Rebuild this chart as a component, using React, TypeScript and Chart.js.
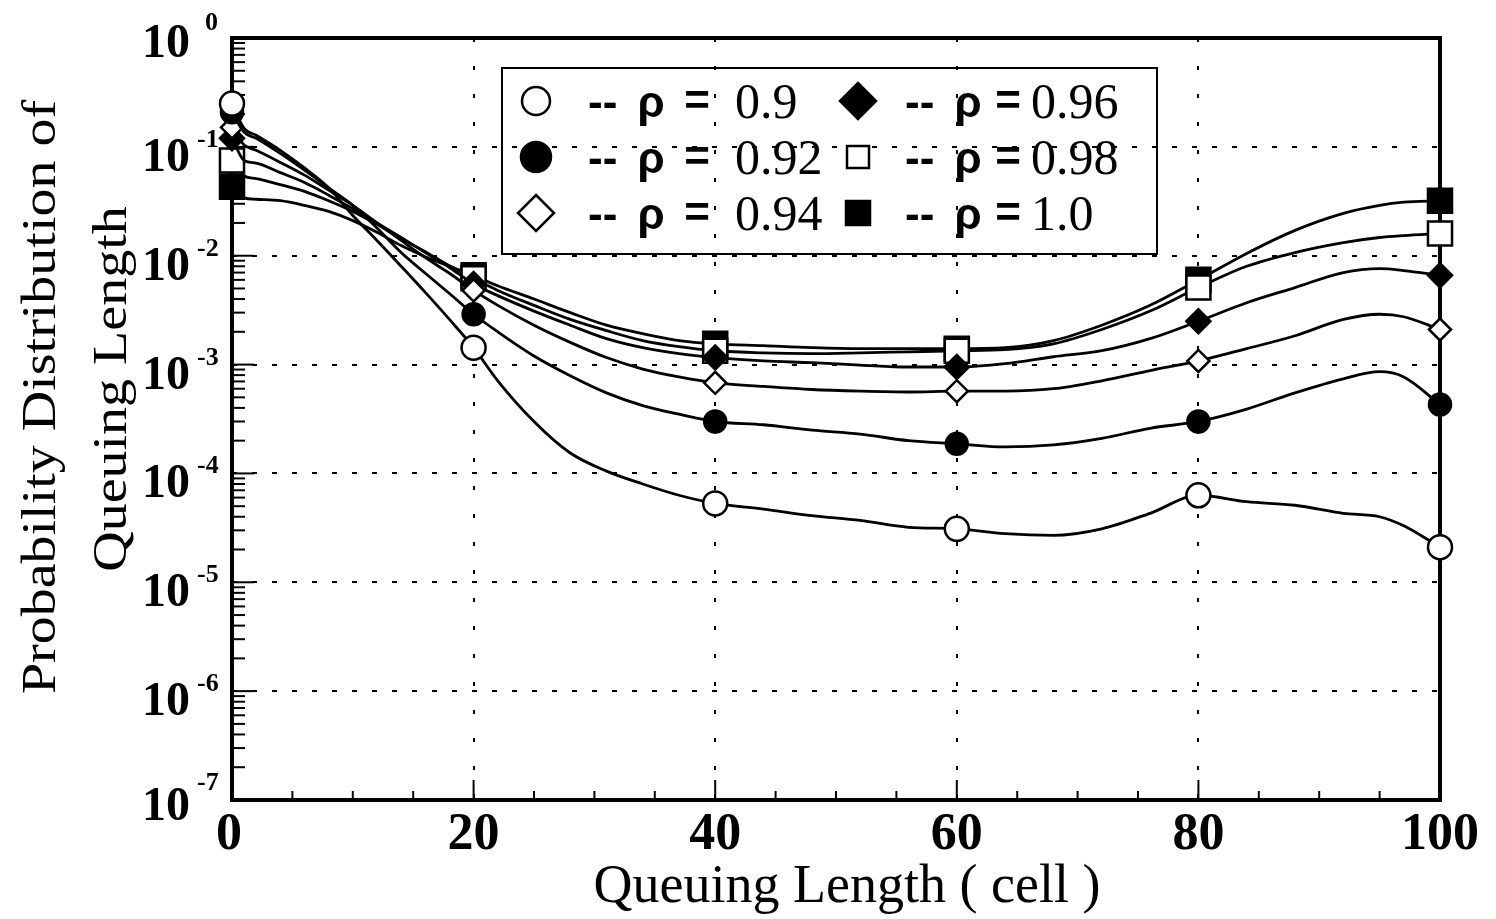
import React, { useEffect, useRef } from "react";
import { Chart, registerables } from "chart.js";

Chart.register(...registerables);

// Queuing length (cells) sample positions along the curves
const QUEUE_LEN = [0, 1, 2, 4, 6, 8, 10, 12, 14, 16, 18, 20, 22, 25, 28, 31, 34, 37, 40, 44, 48, 52, 56, 60, 64, 68, 72, 76, 80, 84, 88, 92, 95, 97, 100];
// positions where the symbols are drawn
const MARKER_AT = [0, 20, 40, 60, 80, 100];

const RHO_LABELS = ["0.9", "0.92", "0.94", "0.96", "0.98", "1.0"];

const P_RHO_090 = [0.25, 0.148, 0.128, 0.093, 0.064, 0.042, 0.0234, 0.0138, 8.0e-3, 4.6e-3, 2.6e-3, 1.43e-3, 7.1e-4, 3.0e-4, 1.54e-4, 1.05e-4, 8.0e-5, 6.3e-5, 5.3e-5, 4.7e-5, 4.1e-5, 3.7e-5, 3.2e-5, 3.1e-5, 2.8e-5, 2.7e-5, 3.1e-5, 4.3e-5, 6.3e-5, 5.5e-5, 5.1e-5, 4.3e-5, 4.0e-5, 3.3e-5, 2.1e-5];
const P_RHO_092 = [0.208, 0.136, 0.12, 0.087, 0.061, 0.042, 0.029, 0.018, 0.0107, 6.9e-3, 4.5e-3, 2.9e-3, 2.0e-3, 1.2e-3, 7.9e-4, 5.5e-4, 4.2e-4, 3.5e-4, 3.0e-4, 2.8e-4, 2.5e-4, 2.3e-4, 2.0e-4, 1.87e-4, 1.75e-4, 1.83e-4, 2.1e-4, 2.6e-4, 3.0e-4, 3.9e-4, 5.5e-4, 7.4e-4, 8.6e-4, 7.7e-4, 4.3e-4];
const P_RHO_094 = [0.151, 0.104, 0.093, 0.072, 0.055, 0.04, 0.029, 0.02, 0.0138, 9.6e-3, 6.9e-3, 4.8e-3, 3.5e-3, 2.3e-3, 1.6e-3, 1.16e-3, 9.1e-4, 7.7e-4, 6.8e-4, 6.3e-4, 5.9e-4, 5.7e-4, 5.6e-4, 5.7e-4, 5.7e-4, 6.0e-4, 7.1e-4, 8.8e-4, 1.08e-3, 1.4e-3, 1.84e-3, 2.6e-3, 2.9e-3, 2.75e-3, 2.1e-3];
const P_RHO_096 = [0.12, 0.075, 0.071, 0.058, 0.047, 0.036, 0.027, 0.02, 0.0147, 0.0107, 7.8e-3, 5.5e-3, 4.3e-3, 3.1e-3, 2.3e-3, 1.73e-3, 1.43e-3, 1.26e-3, 1.16e-3, 1.08e-3, 1.04e-3, 9.9e-4, 9.5e-4, 9.5e-4, 1.02e-3, 1.18e-3, 1.34e-3, 1.73e-3, 2.5e-3, 3.7e-3, 5.1e-3, 7.0e-3, 7.6e-3, 7.3e-3, 6.6e-3];
const P_RHO_098 = [0.075, 0.054, 0.051, 0.045, 0.039, 0.032, 0.0255, 0.0194, 0.0144, 0.0109, 8.1e-3, 6.2e-3, 4.8e-3, 3.5e-3, 2.6e-3, 2.05e-3, 1.66e-3, 1.46e-3, 1.34e-3, 1.28e-3, 1.26e-3, 1.28e-3, 1.31e-3, 1.34e-3, 1.37e-3, 1.55e-3, 2.1e-3, 3.1e-3, 5.1e-3, 8.0e-3, 0.0107, 0.0132, 0.0147, 0.0153, 0.016];
const P_RHO_100 = [0.043, 0.034, 0.033, 0.032, 0.029, 0.0255, 0.021, 0.0164, 0.0124, 9.8e-3, 8.0e-3, 6.6e-3, 5.3e-3, 4.0e-3, 3.0e-3, 2.3e-3, 1.92e-3, 1.66e-3, 1.55e-3, 1.49e-3, 1.43e-3, 1.4e-3, 1.4e-3, 1.4e-3, 1.43e-3, 1.66e-3, 2.3e-3, 3.5e-3, 6.0e-3, 0.0105, 0.0171, 0.0245, 0.029, 0.031, 0.032];

const SERIES = [P_RHO_090, P_RHO_092, P_RHO_094, P_RHO_096, P_RHO_098, P_RHO_100];

const X_TICKS = [0, 20, 40, 60, 80, 100];
const X_MINOR_STEP = 5;
const Y_EXPONENTS = [0, -1, -2, -3, -4, -5, -6, -7];

const X_TITLE = "Queuing Length ( cell )";
const Y_TITLE = ["Probability Distribution of", "Queuing Length"];

type Mark = { style: "circle" | "rectRot" | "rect"; fill: string; r: number; lr: number };
const MARKS: Mark[] = [
  { style: "circle", fill: "#ffffff", r: 12, lr: 14 },
  { style: "circle", fill: "#000000", r: 11, lr: 15 },
  { style: "rectRot", fill: "#ffffff", r: 11, lr: 18 },
  { style: "rectRot", fill: "#000000", r: 12, lr: 18 },
  { style: "rect", fill: "#ffffff", r: 17, lr: 11 },
  { style: "rect", fill: "#000000", r: 17, lr: 12 },
];

function drawMark(ctx: CanvasRenderingContext2D, m: Mark, cx: number, cy: number, r: number) {
  ctx.beginPath();
  if (m.style === "circle") ctx.arc(cx, cy, r, 0, Math.PI * 2);
  else if (m.style === "rectRot") {
    ctx.moveTo(cx, cy - r);
    ctx.lineTo(cx + r, cy);
    ctx.lineTo(cx, cy + r);
    ctx.lineTo(cx - r, cy);
    ctx.closePath();
  } else ctx.rect(cx - r, cy - r, r * 2, r * 2);
  ctx.fillStyle = m.fill;
  ctx.fill();
  ctx.lineWidth = 2.5;
  ctx.strokeStyle = "#000";
  ctx.stroke();
}

const decorPlugin = {
  id: "decor",
  beforeDatasetsDraw(chart: any) {
    const { ctx, chartArea: a, scales } = chart;
    const x = scales.x;
    const y = scales.y;
    ctx.save();
    ctx.strokeStyle = "#000";
    // grid lines
    ctx.lineWidth = 2;
    ctx.setLineDash([5, 15]);
    for (const e of Y_EXPONENTS) {
      if (e === 0 || e === -7) continue;
      const py = Math.round(y.getPixelForValue(Math.pow(10, e)));
      ctx.beginPath();
      ctx.moveTo(a.left, py);
      ctx.lineTo(a.right, py);
      ctx.stroke();
    }
    ctx.setLineDash([4, 24]);
    for (const t of X_TICKS) {
      if (t === 0 || t === 100) continue;
      const px = Math.round(x.getPixelForValue(t));
      ctx.beginPath();
      ctx.moveTo(px, a.top);
      ctx.lineTo(px, a.bottom);
      ctx.stroke();
    }
    ctx.setLineDash([]);
    // y ticks (log)
    ctx.lineWidth = 2;
    for (const e of Y_EXPONENTS) {
      const py = y.getPixelForValue(Math.pow(10, e));
      ctx.beginPath();
      ctx.moveTo(a.left, py);
      ctx.lineTo(a.left + 22, py);
      ctx.stroke();
      if (e === 0) continue;
      for (let k = 2; k <= 9; k++) {
        const pm = y.getPixelForValue(k * Math.pow(10, e));
        ctx.beginPath();
        ctx.moveTo(a.left, pm);
        ctx.lineTo(a.left + 13, pm);
        ctx.stroke();
      }
    }
    // x ticks
    for (let t = 0; t <= 100; t += X_MINOR_STEP) {
      const px = x.getPixelForValue(t);
      const major = X_TICKS.includes(t);
      ctx.beginPath();
      ctx.moveTo(px, a.bottom);
      ctx.lineTo(px, a.bottom - (major ? 20 : 9));
      ctx.stroke();
    }
    // frame
    ctx.lineWidth = 4;
    ctx.strokeRect(a.left, a.top, a.right - a.left, a.bottom - a.top);
    ctx.restore();
  },
  afterDraw(chart: any) {
    const { ctx, chartArea: a, scales } = chart;
    const x = scales.x;
    const y = scales.y;
    ctx.save();
    ctx.fillStyle = "#000";
    // y tick labels: 10^e
    for (const e of Y_EXPONENTS) {
      const py = y.getPixelForValue(Math.pow(10, e));
      let base = py + 24;
      let expBase = py;
      if (e === 0) { base = py + 19; expBase = py - 8; }
      if (e === -7) { base = py + 20; expBase = py - 10; }
      ctx.font = 'bold 48px "Liberation Serif"';
      ctx.textAlign = "right";
      ctx.textBaseline = "alphabetic";
      ctx.fillText("10", a.left - 42, base);
      ctx.font = 'bold 26px "Liberation Serif"';
      ctx.textAlign = "left";
      ctx.fillText(String(e), e === 0 ? a.left - 27 : a.left - 35, expBase);
    }
    // x tick labels
    ctx.font = 'bold 52px "Liberation Serif"';
    ctx.textAlign = "center";
    ctx.textBaseline = "alphabetic";
    for (const t of X_TICKS) {
      ctx.fillText(String(t), x.getPixelForValue(t) - (t === 0 ? 3 : 0), a.bottom + 49);
    }
    // x title
    ctx.font = '54px "Liberation Serif"';
    ctx.fillText(X_TITLE, a.left + (a.right - a.left) / 2 + 11, 902);
    // y title
    const yt = [
      { bx: 55, cy: 397 },
      { bx: 126, cy: 389 },
    ];
    Y_TITLE.forEach((line, i) => {
      ctx.save();
      ctx.translate(yt[i].bx, yt[i].cy);
      ctx.rotate(-Math.PI / 2);
      ctx.scale(1, 0.88);
      ctx.font = '56px "Liberation Serif"';
      ctx.textAlign = "center";
      ctx.textBaseline = "alphabetic";
      ctx.fillText(line, 0, 0);
      ctx.restore();
    });
    // legend
    const lx = 502, ly = 68, lw = 655, lh = 186;
    ctx.lineWidth = 2;
    ctx.strokeStyle = "#000";
    ctx.strokeRect(lx, ly, lw, lh);
    const rowsY = [101, 157, 213];
    const cols = [
      { mx: 536, dash: 588, rho: 651, eq: 697, num: 735 },
      { mx: 858, dash: 905, rho: 968, eq: 1008, num: 1031 },
    ];
    RHO_LABELS.forEach((lab, i) => {
      const c = cols[Math.floor(i / 3)];
      const ry = rowsY[i % 3];
      drawMark(ctx, MARKS[i], c.mx, ry, MARKS[i].lr);
      ctx.fillStyle = "#000";
      ctx.textBaseline = "alphabetic";
      ctx.font = 'bold 44px "Liberation Sans"';
      ctx.textAlign = "left";
      ctx.fillText("--", c.dash, ry + 16);
      ctx.textAlign = "center";
      ctx.fillText("ρ", c.rho, ry + 16);
      ctx.fillText("=", c.eq, ry + 14);
      ctx.textAlign = "left";
      ctx.font = '50px "Liberation Serif"';
      ctx.fillText(lab, c.num, ry + 17);
    });
    ctx.restore();
  },
};

export default function App() {
  const ref = useRef<HTMLCanvasElement | null>(null);
  useEffect(() => {
    if (!ref.current) return;
    const datasets = SERIES.map((s, i) => ({
      label: "ρ = " + RHO_LABELS[i],
      data: QUEUE_LEN.map((q, j) => ({ x: q, y: s[j] })),
      borderColor: "#000",
      borderWidth: 2.8,
      cubicInterpolationMode: "monotone" as const,
      pointStyle: MARKS[i].style,
      pointRadius: (c: any) => (MARKER_AT.includes(QUEUE_LEN[c.dataIndex]) ? MARKS[i].r : 0),
      pointHoverRadius: (c: any) => (MARKER_AT.includes(QUEUE_LEN[c.dataIndex]) ? MARKS[i].r : 0),
      pointBackgroundColor: MARKS[i].fill,
      pointBorderColor: "#000",
      pointBorderWidth: 2.5,
      clip: false as any,
      fill: false,
    }));
    const chart = new Chart(ref.current, {
      type: "line",
      data: { datasets },
      options: {
        animation: false,
        responsive: false,
        devicePixelRatio: 1,
        layout: { padding: { left: 232, right: 56, top: 38, bottom: 119 } },
        scales: {
          x: { type: "linear", min: 0, max: 100, display: false },
          y: { type: "logarithmic", min: 1e-7, max: 1, display: false },
        },
        plugins: { legend: { display: false }, tooltip: { enabled: false } },
        events: [],
      },
      plugins: [decorPlugin],
    } as any);
    return () => chart.destroy();
  }, []);
  return (
    <div style={{ position: "absolute", left: 0, top: 0, width: 1496, height: 919, background: "#fff" }}>
      <canvas ref={ref} width={1496} height={919} style={{ display: "block" }} />
    </div>
  );
}
